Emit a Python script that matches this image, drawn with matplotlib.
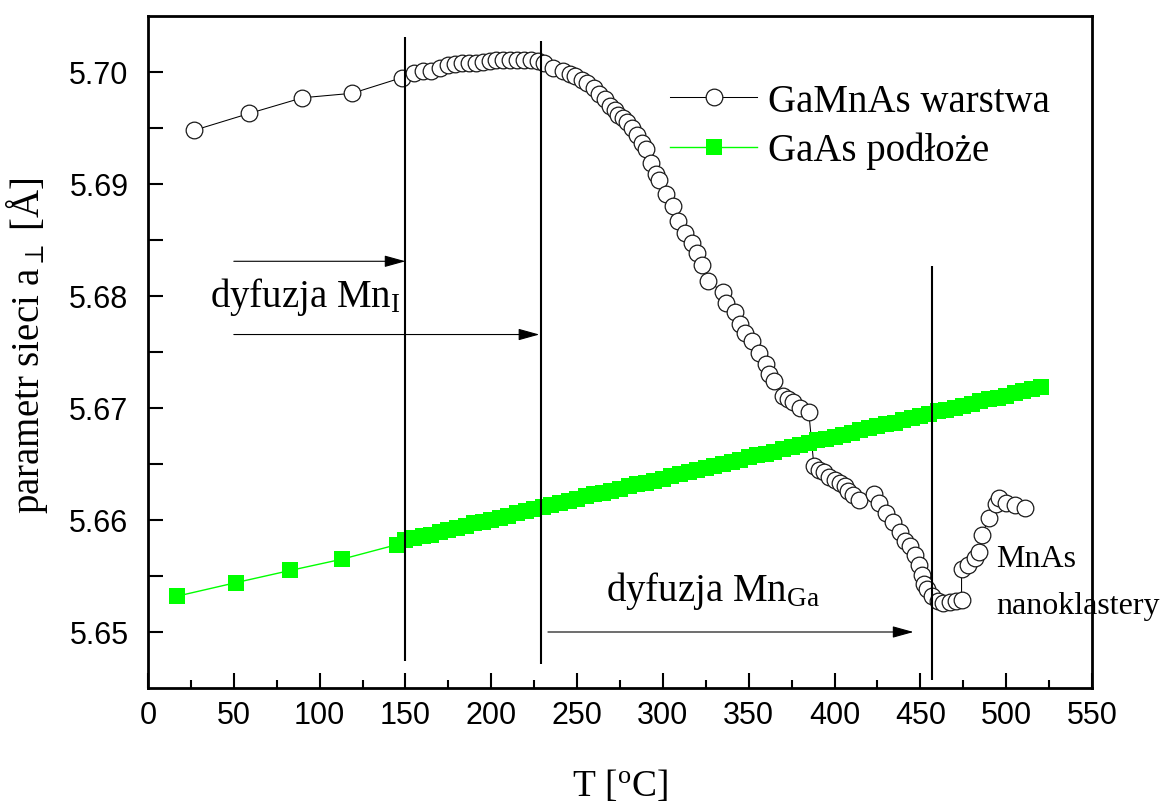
import matplotlib.pyplot as plt
from matplotlib.ticker import MultipleLocator, FormatStrFormatter
from matplotlib.patches import ArrowStyle

plt.rcParams['font.family'] = ['Liberation Serif', 'DejaVu Serif']
plt.rcParams['mathtext.fontset'] = 'custom'
plt.rcParams['mathtext.rm'] = 'Liberation Serif'
plt.rcParams['mathtext.it'] = 'Liberation Serif:italic'

# GaMnAs layer: temperature [C] and lattice parameter [A]
t_gamnas = [27, 59, 90, 119, 148, 155, 160, 165, 170, 175,
            179, 183, 187, 191, 195, 199, 203, 207, 211, 215,
            219, 223, 227, 231, 236, 242, 246, 249, 253, 256,
            260, 263, 266, 269, 272, 274, 277, 279, 282, 285,
            288, 290, 293, 296, 298, 302, 306, 309, 313, 317,
            320, 323, 326, 335, 337, 342, 345, 348, 352, 356,
            360, 362, 365, 370, 373, 376, 380, 385, 388, 391,
            394, 397, 400, 403, 406, 408, 411, 414, 423, 426,
            430, 434, 438, 441, 444, 447, 449, 451, 452, 454,
            457, 460, 463, 467, 471, 474, 474, 478, 482, 484,
            486, 490, 494, 496, 500, 505, 511]
a_gamnas = [5.6948, 5.6963, 5.6977, 5.6981, 5.6995, 5.6999, 5.7001, 5.7001, 5.7004, 5.7006,
            5.7007, 5.7008, 5.7008, 5.7008, 5.7009, 5.7010, 5.7011, 5.7011, 5.7011, 5.7011,
            5.7011, 5.7011, 5.7010, 5.7008, 5.7004, 5.7001, 5.6998, 5.6996, 5.6993, 5.6990,
            5.6986, 5.6980, 5.6976, 5.6970, 5.6966, 5.6962, 5.6959, 5.6955, 5.6950, 5.6944,
            5.6937, 5.6931, 5.6919, 5.6909, 5.6904, 5.6891, 5.6880, 5.6867, 5.6856, 5.6847,
            5.6838, 5.6828, 5.6813, 5.6804, 5.6794, 5.6786, 5.6775, 5.6767, 5.6760, 5.6749,
            5.6739, 5.6730, 5.6724, 5.6711, 5.6708, 5.6705, 5.6700, 5.6696, 5.6648, 5.6645,
            5.6643, 5.6638, 5.6636, 5.6633, 5.6630, 5.6626, 5.6622, 5.6618, 5.6623, 5.6615,
            5.6606, 5.6598, 5.6589, 5.6581, 5.6577, 5.6569, 5.6560, 5.6551, 5.6543, 5.6538,
            5.6532, 5.6528, 5.6526, 5.6527, 5.6528, 5.6529, 5.6556, 5.6560, 5.6566, 5.6571,
            5.6587, 5.6602, 5.6614, 5.6620, 5.6615, 5.6613, 5.6611]

# GaAs substrate
t_gaas = [17, 51, 83, 113, 145,
          150, 155, 160, 165, 170, 175, 180, 185, 190, 195,
          200, 205, 210, 215, 220, 225, 230, 235, 240, 245,
          250, 255, 260, 265, 270, 275, 280, 285, 290, 295,
          300, 305, 310, 315, 320, 325, 330, 335, 340, 345,
          350, 355, 360, 365, 370, 375, 380, 385, 390, 395,
          400, 405, 410, 415, 420, 425, 430, 435, 440, 445,
          450, 455, 460, 465, 470, 475, 480, 485, 490, 495,
          500, 505, 510, 515, 520]
a_gaas = [5.6532, 5.6544, 5.6555, 5.6565, 5.6578,
          5.6582, 5.6584, 5.6586, 5.6587, 5.6589, 5.6591, 5.6593, 5.6595, 5.6597, 5.6598,
          5.6600, 5.6602, 5.6604, 5.6606, 5.6608, 5.6610, 5.6612, 5.6613, 5.6615, 5.6617,
          5.6619, 5.6621, 5.6623, 5.6624, 5.6626, 5.6628, 5.6630, 5.6632, 5.6633, 5.6635,
          5.6637, 5.6639, 5.6641, 5.6643, 5.6645, 5.6646, 5.6648, 5.6650, 5.6652, 5.6654,
          5.6656, 5.6658, 5.6659, 5.6661, 5.6663, 5.6665, 5.6667, 5.6669, 5.6671, 5.6672,
          5.6674, 5.6676, 5.6678, 5.6680, 5.6682, 5.6684, 5.6686, 5.6687, 5.6689, 5.6691,
          5.6693, 5.6695, 5.6697, 5.6698, 5.6700, 5.6702, 5.6704, 5.6706, 5.6708, 5.6709,
          5.6711, 5.6713, 5.6715, 5.6717, 5.6719]

# boundaries of the diffusion stages
t_bounds = [150, 229, 457]
bound_lo = [5.6474, 5.6471, 5.6457]
bound_hi = [5.7031, 5.7028, 5.6827]

fig = plt.figure(figsize=(11.6, 8.03), dpi=100)
ax = fig.add_axes([148 / 1160, 114 / 803, 944 / 1160, 672 / 803])

ax.plot(t_gamnas, a_gamnas, '-', color='black', lw=0.75,
        marker='o', ms=12, mfc='white', mec='#1a1a1a', mew=0.9,
        label='GaMnAs warstwa', zorder=2)
ax.plot(t_gaas, a_gaas, '-', color='#00ff00', lw=1.0,
        marker='s', ms=12, mfc='#00ff00', mec='#00ff00', mew=0,
        label='GaAs podłoże', zorder=3)

ax.vlines(t_bounds, bound_lo, bound_hi, colors='black', lw=1.5, zorder=5)

head = ArrowStyle('-|>', head_length=1.3, head_width=0.36)
arrows = [((50, 5.6831), (150, 5.6831)),
          ((50, 5.67656), (228, 5.67656)),
          ((233, 5.6500), (446, 5.6500))]
for start, end in arrows:
    ax.annotate('', xy=end, xytext=start,
                arrowprops=dict(arrowstyle=head, color='black', lw=0.8,
                                mutation_scale=10, shrinkA=0, shrinkB=0),
                zorder=6)

ax.text(36, 5.6791, r'dyfuzja Mn$_{\mathrm{I}}$', fontsize=28, va='baseline')
ax.text(267, 5.6529, r'dyfuzja Mn$_{\mathrm{Ga}}$', fontsize=28, va='baseline')
ax.text(494, 5.6559, 'MnAs', fontsize=23, va='baseline', clip_on=False)
ax.text(494, 5.6517, 'nanoklastery', fontsize=23, va='baseline', clip_on=False)

ax.set_xlim(0, 550)
ax.set_ylim(5.645, 5.705)
ax.xaxis.set_major_locator(MultipleLocator(50))
ax.xaxis.set_minor_locator(MultipleLocator(25))
ax.set_yticks([5.65, 5.66, 5.67, 5.68, 5.69, 5.70])
ax.set_yticks([5.655, 5.665, 5.675, 5.685, 5.695], minor=True)
ax.yaxis.set_major_formatter(FormatStrFormatter('%.2f'))

ax.tick_params(which='both', direction='in', width=1.5, top=False, right=False)
ax.tick_params(axis='x', which='major', length=10.5, pad=9, labelsize=22)
ax.tick_params(axis='x', which='minor', length=5.5)
ax.tick_params(axis='y', which='both', length=11, pad=14, labelsize=22)
for lab in ax.get_xticklabels() + ax.get_yticklabels():
    lab.set_family('Liberation Sans')

for sp in ax.spines.values():
    sp.set_linewidth(2)

ax.set_xlabel(r'T [$^{\mathrm{o}}$C]', fontsize=27)
ax.set_ylabel(r'parametr sieci a$_{\perp}$ [Å]', fontsize=28)
ax.xaxis.set_label_coords(0.5, -0.117)
ax.yaxis.set_label_coords(-0.104, 0.511)

ax.legend(loc='upper left', bbox_to_anchor=(670 / 1160, 1 - 84 / 803),
          bbox_transform=fig.transFigure, frameon=False, fontsize=28,
          handlelength=2.24, handletextpad=0.28, labelspacing=0.3,
          borderpad=0, borderaxespad=0, numpoints=1)

fig.savefig('out.png', dpi=100)
